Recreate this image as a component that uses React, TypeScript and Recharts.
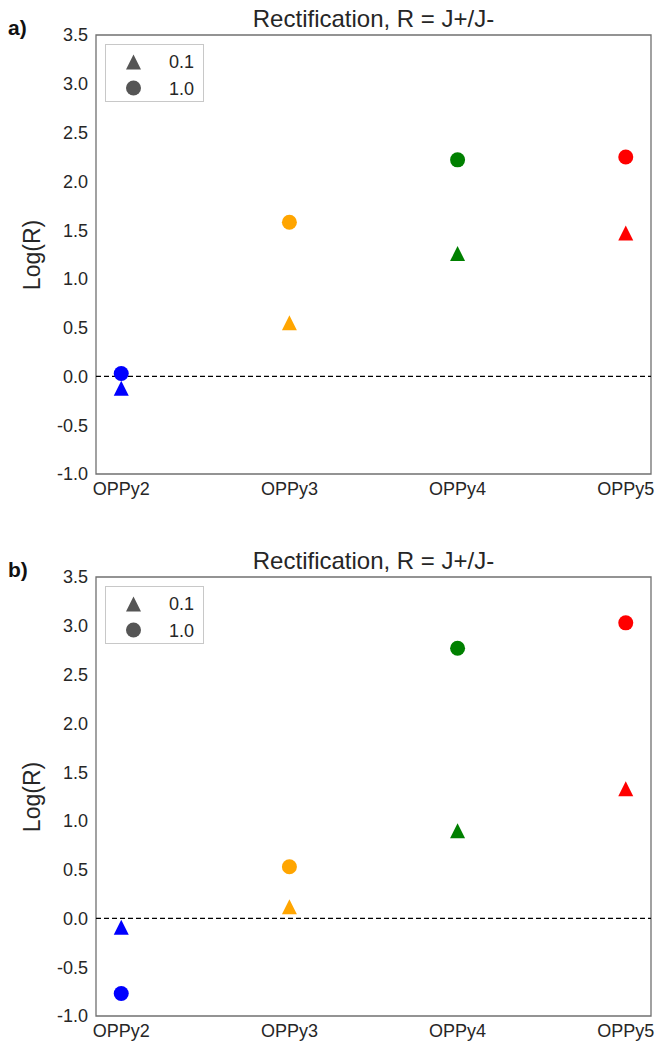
import React from 'react';
import {
  ScatterChart,
  Scatter,
  XAxis,
  YAxis,
  ReferenceLine,
  ReferenceArea,
} from 'recharts';

const categories = ['OPPy2', 'OPPy3', 'OPPy4', 'OPPy5'];
const pointColors = ['#0000ff', '#ffa500', '#008000', '#ff0000'];
const yTicks = [-1, -0.5, 0, 0.5, 1, 1.5, 2, 2.5, 3, 3.5];

// panel a
const aTriangle = [-0.12, 0.55, 1.26, 1.47];
const aCircle = [0.03, 1.58, 2.22, 2.25];
// panel b
const bTriangle = [-0.09, 0.12, 0.9, 1.33];
const bCircle = [-0.77, 0.53, 2.77, 3.03];

const FONT = '"Liberation Sans", Arial, sans-serif';
const TEXT = '#262626';

const toPoints = (vals: number[]) =>
  vals.map((v, i) => ({ x: i, y: v, color: pointColors[i] }));

const Triangle = (props: any) => {
  const { cx, cy, payload } = props;
  const h = 7.5;
  return (
    <polygon
      points={`${cx},${cy - h} ${cx - h},${cy + h} ${cx + h},${cy + h}`}
      fill={payload.color}
    />
  );
};

const Dot = (props: any) => {
  const { cx, cy, payload } = props;
  return <circle cx={cx} cy={cy} r={7.5} fill={payload.color} />;
};

const LegendBox = () => (
  <div
    style={{
      position: 'absolute',
      left: 105,
      top: 44,
      width: 97,
      height: 56,
      border: '1px solid #c8c8c8',
      background: '#fff',
      fontFamily: FONT,
      fontSize: 18,
      color: TEXT,
    }}
  >
    <svg width={97} height={56} style={{ position: 'absolute', left: 0, top: 0 }}>
      <polygon points="27.5,9.5 20,24.5 35,24.5" fill="#555" />
      <circle cx={27.5} cy={43} r={7.5} fill="#555" />
    </svg>
    <div style={{ position: 'absolute', right: 9, top: 6, lineHeight: '22px' }}>0.1</div>
    <div style={{ position: 'absolute', right: 9, top: 33, lineHeight: '22px' }}>1.0</div>
  </div>
);

const Panel = ({
  tag,
  tri,
  circ,
}: {
  tag: string;
  tri: number[];
  circ: number[];
}) => (
  <div style={{ position: 'relative', width: 659, height: 542 }}>
    <div
      style={{
        position: 'absolute',
        left: 8,
        top: 14,
        fontFamily: FONT,
        fontWeight: 'bold',
        fontSize: 21,
        color: '#111',
        lineHeight: '28px',
      }}
    >
      {tag}
    </div>
    <div
      style={{
        position: 'absolute',
        left: 96,
        width: 555,
        top: 5,
        textAlign: 'center',
        fontFamily: FONT,
        fontSize: 24,
        color: TEXT,
        lineHeight: '28px',
      }}
    >
      Rectification, R = J+/J-
    </div>
    <div
      style={{
        position: 'absolute',
        left: 32,
        top: 254.5,
        transform: 'translate(-50%, -50%) rotate(-90deg)',
        fontFamily: FONT,
        fontSize: 23,
        color: TEXT,
        whiteSpace: 'nowrap',
        lineHeight: 1,
      }}
    >
      Log(R)
    </div>
    <ScatterChart
      width={659}
      height={499}
      margin={{ top: 35, right: 8, bottom: 0, left: 0 }}
    >
      <XAxis
        dataKey="x"
        type="number"
        domain={[-0.15, 3.15]}
        ticks={[0, 1, 2, 3]}
        interval={0}
        tickFormatter={(i: number) => categories[i]}
        axisLine={false}
        tickLine={false}
        height={25}
        allowDataOverflow
        tick={{ fontSize: 18, fill: TEXT, fontFamily: FONT }}
      />
      <YAxis
        dataKey="y"
        type="number"
        domain={[-1, 3.5]}
        ticks={yTicks}
        interval={0}
        tickFormatter={(v: number) => v.toFixed(1)}
        axisLine={false}
        tickLine={false}
        width={96}
        allowDataOverflow
        tick={{ fontSize: 18, fill: TEXT, fontFamily: FONT }}
      />
      <ReferenceArea
        x1={-0.15}
        x2={3.15}
        y1={-1}
        y2={3.5}
        fill="none"
        fillOpacity={0}
        stroke="#707070"
        strokeWidth={1.3}
        strokeOpacity={1}
      />
      <ReferenceLine y={0} stroke="#000" strokeDasharray="5 3" strokeWidth={1.3} />
      <Scatter
        name="0.1"
        data={toPoints(tri)}
        shape={Triangle}
        isAnimationActive={false}
      />
      <Scatter
        name="1.0"
        data={toPoints(circ)}
        shape={Dot}
        isAnimationActive={false}
      />
    </ScatterChart>
    <LegendBox />
  </div>
);

export default function App() {
  return (
    <div style={{ position: 'absolute', left: 0, top: 0, width: 659, height: 1041, background: '#fff' }}>
      <Panel tag="a)" tri={aTriangle} circ={aCircle} />
      <Panel tag="b)" tri={bTriangle} circ={bCircle} />
    </div>
  );
}
